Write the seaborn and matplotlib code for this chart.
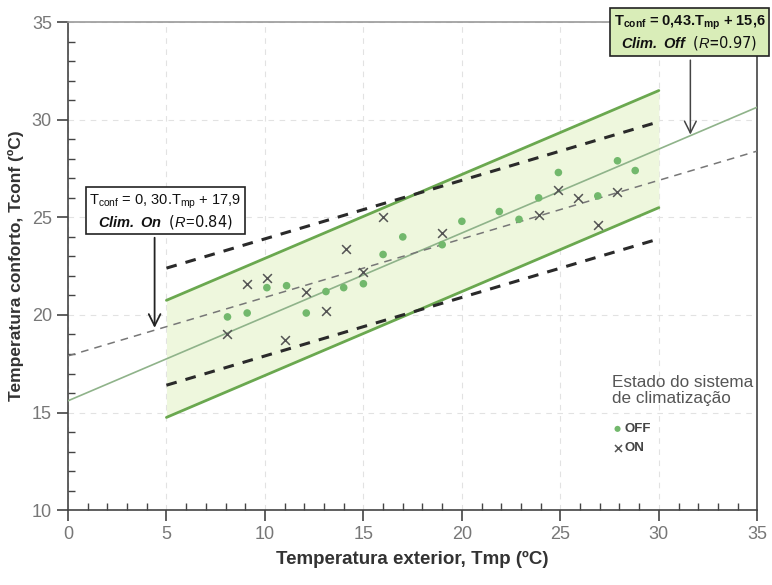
import matplotlib

matplotlib.use("Agg")
import matplotlib.pyplot as plt
import matplotlib.ticker as mticker
import numpy as np
import pandas as pd
import seaborn as sns

# regression coefficients printed on the chart
OFF_SLOPE, OFF_INTERCEPT = 0.43, 15.6
ON_SLOPE, ON_INTERCEPT = 0.30, 17.9
BAND_HALF_WIDTH = 3.0
BAND_X = [5, 30]
LINE_X = [0, 35]

off_tmp = [8.1, 9.1, 10.1, 11.1, 12.1, 13.1, 14.0, 15.0, 16.0, 17.0,
           19.0, 20.0, 21.9, 22.9, 23.9, 24.9, 26.9, 27.9, 28.8]
off_tconf = [19.9, 20.1, 21.4, 21.5, 20.1, 21.2, 21.4, 21.6, 23.1, 24.0,
             23.6, 24.8, 25.3, 24.9, 26.0, 27.3, 26.1, 27.9, 27.4]
on_tmp = [8.1, 9.1, 10.1, 11.0, 12.1, 13.1, 14.1, 15.0, 16.0, 19.0,
          23.9, 24.9, 25.9, 26.9, 27.9]
on_tconf = [19.0, 21.6, 21.9, 18.7, 21.2, 20.2, 23.4, 22.2, 25.0, 24.2,
            25.1, 26.4, 26.0, 24.6, 26.3]

GREEN = "#6aa84f"
GREEN_FILL = "#eef7dd"
DOT_GREEN = "#72b86c"

sns.set_theme(style="ticks")
plt.rcParams.update({
    "font.family": ["Liberation Sans", "DejaVu Sans"],
    "mathtext.fontset": "custom",
    "mathtext.default": "regular",
    "mathtext.it": "Liberation Sans:italic",
    "mathtext.bfit": "Liberation Sans:bold:italic",
})

fig = plt.figure(figsize=(7.72, 5.85), dpi=100)
ax = fig.add_axes([0.088, 0.128, 0.893, 0.834])

bx = np.array(BAND_X, dtype=float)
lx = np.array(LINE_X, dtype=float)
off_band = OFF_SLOPE * bx + OFF_INTERCEPT
on_band = ON_SLOPE * bx + ON_INTERCEPT

ax.fill_between(bx, off_band - BAND_HALF_WIDTH, off_band + BAND_HALF_WIDTH,
                color=GREEN_FILL, zorder=1, lw=0)
for sign in (-1, 1):
    ax.plot(bx, off_band + sign * BAND_HALF_WIDTH, color=GREEN, lw=2.0, zorder=3)
    ax.plot(bx, on_band + sign * BAND_HALF_WIDTH, color="#2a2a2a", lw=2.2,
            ls=(0, (3.5, 3)), zorder=3)
ax.plot(lx, OFF_SLOPE * lx + OFF_INTERCEPT, color="#8fb38a", lw=1.2, zorder=3)
ax.plot(lx, ON_SLOPE * lx + ON_INTERCEPT, color="#777777", lw=1.1,
        ls=(0, (5, 4)), zorder=3)

off_df = pd.DataFrame({"Tmp": off_tmp, "Tconf": off_tconf})
on_df = pd.DataFrame({"Tmp": on_tmp, "Tconf": on_tconf})
sns.scatterplot(data=off_df, x="Tmp", y="Tconf", ax=ax, color=DOT_GREEN, s=30,
                edgecolor="none", zorder=4, label="OFF")
sns.scatterplot(data=on_df, x="Tmp", y="Tconf", ax=ax, color="#555555", marker="x",
                s=40, linewidth=1.1, zorder=4, label="ON")

ax.set_xlim(0, 35)
ax.set_ylim(10, 35)
ax.xaxis.set_major_locator(mticker.MultipleLocator(5))
ax.xaxis.set_minor_locator(mticker.MultipleLocator(1))
ax.yaxis.set_major_locator(mticker.MultipleLocator(5))
ax.yaxis.set_minor_locator(mticker.MultipleLocator(1))
ax.tick_params(which="major", direction="out", length=8, width=1.2, color="#444444",
               labelsize=13, labelcolor="#777777")
ax.tick_params(which="minor", direction="in", length=5, width=1.0, color="#444444")
for lab in ax.get_xticklabels() + ax.get_yticklabels():
    lab.set_family(["Liberation Sans Narrow", "Liberation Sans"])
ax.grid(True, which="major", ls=(0, (5, 5)), color="#e2e2e2", lw=0.8, zorder=0)
for side in ("left", "bottom", "right"):
    ax.spines[side].set_color("#444444")
    ax.spines[side].set_linewidth(1.2)
ax.spines["top"].set_color("#999999")
ax.spines["top"].set_linewidth(1.2)

ax.set_xlabel("Temperatura exterior, Tmp (ºC)", fontsize=13.5, fontweight="bold",
              color="#333333", labelpad=6)
ax.set_ylabel("Temperatura conforto, Tconf (ºC)", fontsize=12.5, fontweight="bold",
              color="#333333", labelpad=6)

leg = ax.legend(title="Estado do sistema\nde climatização", loc="upper left",
                bbox_to_anchor=(0.78, 0.29), frameon=False, handletextpad=0.15,
                handlelength=0.8, labelspacing=0.5, borderpad=0, markerscale=0.8,
                prop={"weight": "bold", "size": 9.5})
leg.get_title().set_fontsize(12.3)
leg.get_title().set_color("#555555")
leg.get_title().set_linespacing(1.1)
leg._legend_box.align = "left"
leg._legend_box.sep = 12
for t in leg.get_texts():
    t.set_color("#444444")

# equation boxes with arrows
off_text = ("T$_{conf}$ = 0,43.T$_{mp}$ + 15,6\n"
            r"$\mathbfit{Clim.\ Off}$  $\mathit{(R}\!=\!\mathit{0.97)}$")
ax.text(31.55, 34.45, off_text, ha="center", va="center", fontsize=10.5,
        fontweight="bold", color="#111111", linespacing=1.15, zorder=6,
        bbox=dict(boxstyle="square,pad=0.25", fc="#d9edb8", ec="#222222", lw=1.2))
ax.annotate("", xy=(31.6, 29.1), xytext=(31.6, 33.2), zorder=6, annotation_clip=False,
            arrowprops=dict(arrowstyle="->,head_length=0.7,head_width=0.35",
                            color="#444444", lw=1.1))

on_text = ("T$_{conf}$ = 0, 30.T$_{mp}$ + 17,9\n"
           r"$\mathbfit{Clim.\ On}$  $\mathit{(R}\!=\!\mathit{0.84)}$")
ax.text(4.95, 25.3, on_text, ha="center", va="center", fontsize=10.5,
        color="#111111", linespacing=1.15, zorder=6,
        bbox=dict(boxstyle="square,pad=0.25", fc="white", ec="#222222", lw=1.2))
ax.annotate("", xy=(4.4, 19.2), xytext=(4.4, 24.1), zorder=6,
            arrowprops=dict(arrowstyle="->,head_length=0.7,head_width=0.35",
                            color="#222222", lw=1.3))

fig.savefig("out.png", dpi=100)
